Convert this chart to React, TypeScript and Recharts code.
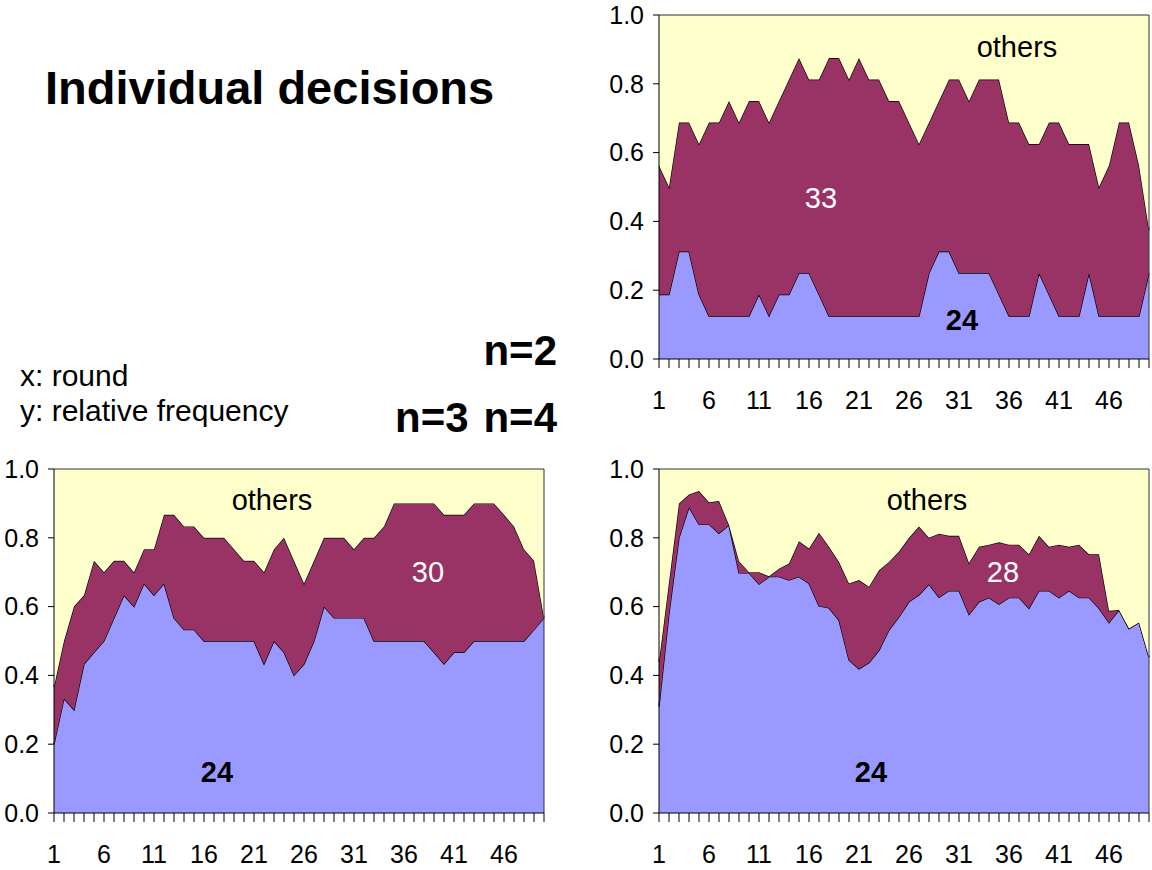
import React from "react";
import { AreaChart, Area, XAxis, YAxis, ReferenceLine } from "recharts";

const FONT = "'Liberation Sans', Arial, sans-serif";

const rounds = [
  1, 2, 3, 4, 5, 6, 7, 8, 9, 10, 11, 12, 13, 14, 15, 16, 17, 18, 19, 20, 21, 22, 23, 24, 25,
  26, 27, 28, 29, 30, 31, 32, 33, 34, 35, 36, 37, 38, 39, 40, 41, 42, 43, 44, 45, 46, 47, 48, 49, 50,
];
const labelledRounds = [1, 6, 11, 16, 21, 26, 31, 36, 41, 46];
const yTicks = [0, 0.2, 0.4, 0.6, 0.8, 1];

// n=2: share choosing 24, and share choosing 24 or 33 (cumulative)
const n2Share24 = [
  0.1875, 0.1875, 0.3125, 0.3125, 0.1875, 0.125, 0.125, 0.125, 0.125, 0.125,
  0.1875, 0.125, 0.1875, 0.1875, 0.25, 0.25, 0.1875, 0.125, 0.125, 0.125,
  0.125, 0.125, 0.125, 0.125, 0.125, 0.125, 0.125, 0.25, 0.3125, 0.3125,
  0.25, 0.25, 0.25, 0.25, 0.1875, 0.125, 0.125, 0.125, 0.25, 0.1875,
  0.125, 0.125, 0.125, 0.25, 0.125, 0.125, 0.125, 0.125, 0.125, 0.25,
];
const n2Top = [
  0.5625, 0.5, 0.6875, 0.6875, 0.625, 0.6875, 0.6875, 0.75, 0.6875, 0.75,
  0.75, 0.6875, 0.75, 0.8125, 0.875, 0.8125, 0.8125, 0.875, 0.875, 0.8125,
  0.875, 0.8125, 0.8125, 0.75, 0.75, 0.6875, 0.625, 0.6875, 0.75, 0.8125,
  0.8125, 0.75, 0.8125, 0.8125, 0.8125, 0.6875, 0.6875, 0.625, 0.625, 0.6875,
  0.6875, 0.625, 0.625, 0.625, 0.5, 0.5625, 0.6875, 0.6875, 0.5625, 0.375,
];

// n=3: share choosing 24, and share choosing 24 or 30 (cumulative)
const n3Share24 = [
  0.2, 0.333, 0.3, 0.433, 0.467, 0.5, 0.567, 0.633, 0.6, 0.667,
  0.633, 0.667, 0.567, 0.533, 0.533, 0.5, 0.5, 0.5, 0.5, 0.5,
  0.5, 0.433, 0.5, 0.467, 0.4, 0.433, 0.5, 0.6, 0.567, 0.567,
  0.567, 0.567, 0.5, 0.5, 0.5, 0.5, 0.5, 0.5, 0.467, 0.433,
  0.467, 0.467, 0.5, 0.5, 0.5, 0.5, 0.5, 0.5, 0.533, 0.567,
];
const n3Top = [
  0.367, 0.5, 0.6, 0.633, 0.733, 0.7, 0.733, 0.733, 0.7, 0.767,
  0.767, 0.867, 0.867, 0.833, 0.833, 0.8, 0.8, 0.8, 0.767, 0.733,
  0.733, 0.7, 0.767, 0.8, 0.733, 0.667, 0.733, 0.8, 0.8, 0.8,
  0.767, 0.8, 0.8, 0.833, 0.9, 0.9, 0.9, 0.9, 0.9, 0.867,
  0.867, 0.867, 0.9, 0.9, 0.9, 0.867, 0.833, 0.767, 0.733, 0.567,
];

// n=4: share choosing 24, and share choosing 24 or 28 (cumulative)
const n4Share24 = [
  0.31, 0.58, 0.8, 0.889, 0.839, 0.839, 0.813, 0.837, 0.698, 0.698,
  0.665, 0.687, 0.687, 0.677, 0.687, 0.667, 0.602, 0.596, 0.56, 0.444,
  0.419, 0.437, 0.473, 0.532, 0.57, 0.614, 0.634, 0.665, 0.627, 0.646,
  0.646, 0.577, 0.614, 0.626, 0.607, 0.626, 0.626, 0.595, 0.646, 0.646,
  0.626, 0.646, 0.626, 0.626, 0.595, 0.553, 0.59, 0.536, 0.554, 0.453,
];
const n4Top = [
  0.44, 0.67, 0.9, 0.926, 0.936, 0.903, 0.907, 0.837, 0.732, 0.7,
  0.7, 0.688, 0.71, 0.725, 0.79, 0.769, 0.815, 0.774, 0.73, 0.667,
  0.677, 0.658, 0.706, 0.73, 0.76, 0.8, 0.833, 0.8, 0.812, 0.806,
  0.806, 0.727, 0.774, 0.78, 0.787, 0.78, 0.78, 0.752, 0.806, 0.774,
  0.78, 0.774, 0.78, 0.752, 0.752, 0.588, 0.59, 0.536, 0.554, 0.453,
];

const buildRows = (share24: number[], top: number[]) =>
  rounds.map((round, i) => ({
    round,
    s24: share24[i],
    mid: top[i] - share24[i],
    others: 1 - top[i],
  }));

const RoundTick = (props: any) => {
  const { x, y, payload } = props;
  if (!labelledRounds.includes(payload.value)) return <g />;
  return (
    <text x={x} y={y} dy={18} textAnchor="middle" fontSize={25} fill="#000" fontFamily={FONT}>
      {payload.value}
    </text>
  );
};

interface ChartProps {
  rows: ReturnType<typeof buildRows>;
  left: number;
  top: number;
  width: number;
  yAxisWidth: number;
  rightMargin: number;
}

const FrequencyChart = ({ rows, left, top, width, yAxisWidth, rightMargin }: ChartProps) => (
  <div style={{ position: "absolute", left, top }}>
    <AreaChart width={width} height={430} data={rows} margin={{ top: 15, right: rightMargin, bottom: 11, left: 0 }}>
      <XAxis
        dataKey="round"
        interval={0}
        height={60}
        tickSize={9}
        tickMargin={23}
        tick={RoundTick}
        axisLine={{ stroke: "#000" }}
        tickLine={{ stroke: "#000" }}
      />
      <YAxis
        domain={[0, 1]}
        allowDataOverflow
        ticks={yTicks}
        width={yAxisWidth}
        tickSize={6}
        tickMargin={9}
        tickFormatter={(v: number) => v.toFixed(1)}
        tick={{ fontSize: 25, fill: "#000", fontFamily: FONT }}
        axisLine={{ stroke: "#000" }}
        tickLine={{ stroke: "#000" }}
      />
      <Area type="linear" dataKey="s24" stackId="1" fill="#9999FF" fillOpacity={1} stroke="#000" strokeWidth={1.3} dot={false} activeDot={false} isAnimationActive={false} />
      <Area type="linear" dataKey="mid" stackId="1" fill="#993366" fillOpacity={1} stroke="#000" strokeWidth={1.3} dot={false} activeDot={false} isAnimationActive={false} />
      <Area type="linear" dataKey="others" stackId="1" fill="#FFFFCC" fillOpacity={1} stroke="none" dot={false} activeDot={false} isAnimationActive={false} />
      <ReferenceLine y={1} stroke="#333" />
      <ReferenceLine x={50} stroke="#333" />
    </AreaChart>
  </div>
);

const n2Rows = buildRows(n2Share24, n2Top);
const n3Rows = buildRows(n3Share24, n3Top);
const n4Rows = buildRows(n4Share24, n4Top);

export default function App() {
  return (
    <div style={{ position: "absolute", left: 0, top: 0, width: 1152, height: 870, background: "#fff", fontFamily: FONT }}>
      <FrequencyChart rows={n2Rows} left={580} top={0} width={572} yAxisWidth={79} rightMargin={3} />
      <FrequencyChart rows={n3Rows} left={0} top={454} width={550} yAxisWidth={54} rightMargin={6} />
      <FrequencyChart rows={n4Rows} left={580} top={454} width={572} yAxisWidth={79} rightMargin={3} />
      <svg width={1152} height={870} style={{ position: "absolute", left: 0, top: 0, pointerEvents: "none" }} fontFamily={FONT}>
        <text x={45} y={104} fontSize={47} fontWeight="bold" fill="#000">Individual decisions</text>
        <text x={20} y={386} fontSize={30} fill="#000">x: round</text>
        <text x={20} y={421} fontSize={30} fill="#000">y: relative frequency</text>
        <text x={557} y={365} fontSize={42} fontWeight="bold" fill="#000" textAnchor="end">n=2</text>
        <text x={395} y={432} fontSize={42} fontWeight="bold" fill="#000">n=3</text>
        <text x={557} y={432} fontSize={42} fontWeight="bold" fill="#000" textAnchor="end">n=4</text>

        <text x={1017} y={57} fontSize={29} fill="#000" textAnchor="middle">others</text>
        <text x={821} y={208} fontSize={29} fill="#fff" textAnchor="middle">33</text>
        <text x={962} y={330} fontSize={29} fontWeight="bold" fill="#000" textAnchor="middle">24</text>

        <text x={272} y={510} fontSize={29} fill="#000" textAnchor="middle">others</text>
        <text x={428} y={582} fontSize={29} fill="#fff" textAnchor="middle">30</text>
        <text x={217} y={782} fontSize={29} fontWeight="bold" fill="#000" textAnchor="middle">24</text>

        <text x={927} y={510} fontSize={29} fill="#000" textAnchor="middle">others</text>
        <text x={1003} y={582} fontSize={29} fill="#fff" textAnchor="middle">28</text>
        <text x={871} y={782} fontSize={29} fontWeight="bold" fill="#000" textAnchor="middle">24</text>
      </svg>
    </div>
  );
}
